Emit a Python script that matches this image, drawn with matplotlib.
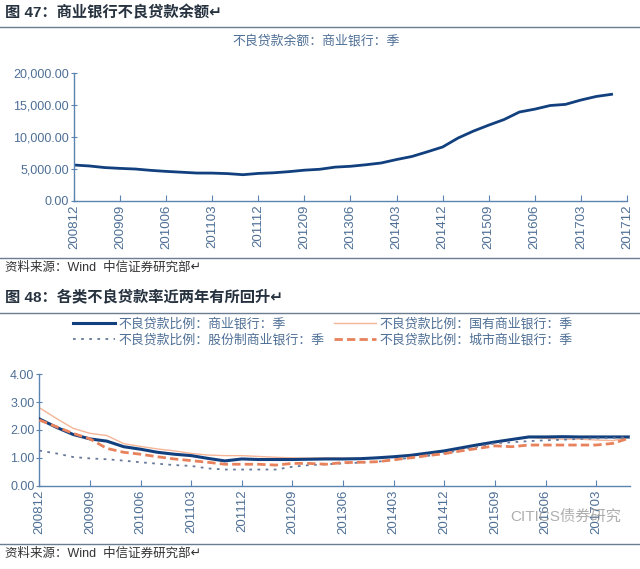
import matplotlib
matplotlib.use("Agg")
import matplotlib.pyplot as plt
from matplotlib.lines import Line2D
from matplotlib.ticker import FuncFormatter

plt.rcParams['font.family'] = ['Liberation Sans', 'Noto Sans CJK SC', 'DejaVu Sans']

# quarters 200812 .. 201712 (top chart axis runs one quarter past the data)
quarters = ['200812',
            '200903', '200906', '200909', '200912',
            '201003', '201006', '201009', '201012',
            '201103', '201106', '201109', '201112',
            '201203', '201206', '201209', '201212',
            '201303', '201306', '201309', '201312',
            '201403', '201406', '201409', '201412',
            '201503', '201506', '201509', '201512',
            '201603', '201606', '201609', '201612',
            '201703', '201706', '201709', '201712']

# 不良贷款余额：商业银行（亿元），到 201709
npl_balance = [5600, 5450, 5200, 5070, 4970, 4760, 4600, 4470, 4340,
               4330, 4250, 4080, 4280, 4380, 4560, 4790, 4930, 5270,
               5400, 5640, 5920, 6460, 6940, 7670, 8430, 9830, 10920,
               11860, 12740, 13920, 14370, 14940, 15120, 15800, 16360, 16700]

# 不良贷款比例（%），200812 .. 201709
ratio_commercial = [2.40, 2.10, 1.84, 1.68, 1.60, 1.40, 1.31, 1.20, 1.13,
                    1.08, 0.98, 0.89, 0.96, 0.94, 0.94, 0.94, 0.95, 0.96,
                    0.96, 0.97, 1.00, 1.04, 1.09, 1.17, 1.25, 1.36, 1.47,
                    1.57, 1.66, 1.75, 1.75, 1.76, 1.75, 1.75, 1.75, 1.75]
ratio_state = [2.80, 2.42, 2.06, 1.88, 1.80, 1.51, 1.41, 1.32, 1.25,
               1.16, 1.10, 1.08, 1.08, 1.05, 1.02, 1.00, 0.99, 1.00,
               0.99, 0.98, 1.00, 1.03, 1.07, 1.14, 1.23, 1.34, 1.45,
               1.55, 1.65, 1.74, 1.70, 1.67, 1.67, 1.64, 1.62, 1.74]
ratio_joint = [1.26, 1.16, 1.03, 0.98, 0.95, 0.90, 0.84, 0.79, 0.74,
               0.71, 0.62, 0.58, 0.58, 0.58, 0.58, 0.68, 0.74, 0.77,
               0.80, 0.83, 0.86, 0.93, 1.00, 1.07, 1.16, 1.29, 1.40,
               1.52, 1.56, 1.60, 1.63, 1.65, 1.68, 1.70, 1.71, 1.74]
ratio_city = [2.36, 2.12, 1.88, 1.68, 1.34, 1.20, 1.13, 1.04, 0.96,
              0.90, 0.84, 0.77, 0.77, 0.77, 0.74, 0.80, 0.80, 0.77,
              0.83, 0.84, 0.86, 0.93, 1.00, 1.08, 1.15, 1.25, 1.34,
              1.43, 1.40, 1.46, 1.46, 1.46, 1.46, 1.46, 1.52, 1.72]

AX_C = "#5b84b1"
TXT_C = "#4e6f96"
SEP_C = "#6a7d91"

def style_axis(ax):
    for s in ("top", "right"):
        ax.spines[s].set_visible(False)
    for s in ("left", "bottom"):
        ax.spines[s].set_color(AX_C)
        ax.spines[s].set_linewidth(1.0)
    ax.tick_params(axis="x", direction="in", length=4, color=AX_C,
                   labelcolor=TXT_C, labelsize=9.5, rotation=90, pad=3)
    ax.tick_params(axis="y", direction="inout", length=5, color=AX_C,
                   labelcolor=TXT_C, labelsize=9, pad=1)

fig = plt.figure(figsize=(6.4, 5.69), dpi=100)

# ---------- 图 47 ----------
ax1 = fig.add_axes([0.1156, 0.6473, 0.864, 0.2239])
x_top = range(len(npl_balance))
ax1.plot(x_top, npl_balance, color="#12407e", lw=2.0)
ax1.set_xlim(0, len(quarters) - 1)
ax1.set_ylim(0, 20000)
ax1.set_yticks([0, 5000, 10000, 15000, 20000])
ax1.yaxis.set_major_formatter(FuncFormatter(lambda v, p: f"{v:,.2f}"))
ax1.set_xticks(range(0, len(quarters), 3))
ax1.set_xticklabels(quarters[::3])
style_axis(ax1)

# ---------- 图 48 ----------
ax2 = fig.add_axes([0.0614, 0.1464, 0.923, 0.1958])
n2 = len(ratio_commercial)
x_bot = range(n2)
l_state, = ax2.plot(x_bot, ratio_state, color="#f5b596", lw=1.0, zorder=2)
l_comm, = ax2.plot(x_bot, ratio_commercial, color="#12407e", lw=2.2, zorder=3)
l_joint, = ax2.plot(x_bot, ratio_joint, color="#66799a", lw=1.3,
                    linestyle=(0, (1.5, 3)), zorder=4)
l_city, = ax2.plot(x_bot, ratio_city, color="#e8825c", lw=2.0,
                   linestyle=(0, (3, 1.5)), zorder=5)
ax2.set_xlim(0, n2 - 1)
ax2.set_ylim(0, 4)
ax2.set_yticks([0, 1, 2, 3, 4])
ax2.yaxis.set_major_formatter(FuncFormatter(lambda v, p: f"{v:.2f}"))
ax2.set_xticks(range(0, n2, 3))
ax2.set_xticklabels(quarters[:n2:3])
style_axis(ax2)

fig.legend([l_comm, l_joint, l_state, l_city],
           ["不良贷款比例：商业银行：季", "不良贷款比例：股份制商业银行：季",
            "不良贷款比例：国有商业银行：季", "不良贷款比例：城市商业银行：季"],
           ncol=2, loc="upper left", bbox_to_anchor=(0.114, 0.442),
           frameon=False, fontsize=9.3, handlelength=3.25, handletextpad=0.3,
           columnspacing=0.7, labelspacing=0.25, borderpad=0, borderaxespad=0,
           labelcolor=TXT_C)

# ---------- titles, sources, separators ----------
def sep(y_px):
    y = 1 - y_px / 569
    fig.add_artist(Line2D([0, 1], [y, y], transform=fig.transFigure,
                          color=SEP_C, lw=1.0))

sep(27)
sep(258)
sep(313)
sep(544)

fig.text(0.008, 1 - 13 / 569, "图 47：商业银行不良贷款余额↵", fontsize=11,
         fontweight="bold", color="#26323f", va="center", ha="left")
fig.text(0.494, 1 - 41 / 569, "不良贷款余额：商业银行：季", fontsize=9.3,
         color=TXT_C, va="center", ha="center")
fig.text(0.008, 1 - 268 / 569, "资料来源：Wind  中信证券研究部↵", fontsize=9,
         color="#333333", va="center", ha="left")
fig.text(0.008, 1 - 297 / 569, "图 48：各类不良贷款率近两年有所回升↵", fontsize=11,
         fontweight="bold", color="#26323f", va="center", ha="left")
fig.text(0.008, 1 - 554 / 569, "资料来源：Wind  中信证券研究部↵", fontsize=9,
         color="#333333", va="center", ha="left")
# watermark sits over the tick labels, as in the source image
fig.text(0.97, 1 - 517 / 569, "CITICS债券研究", fontsize=11,
         color="#9a9a9a", alpha=0.8, va="center", ha="right")

fig.savefig("out.png", dpi=100)
